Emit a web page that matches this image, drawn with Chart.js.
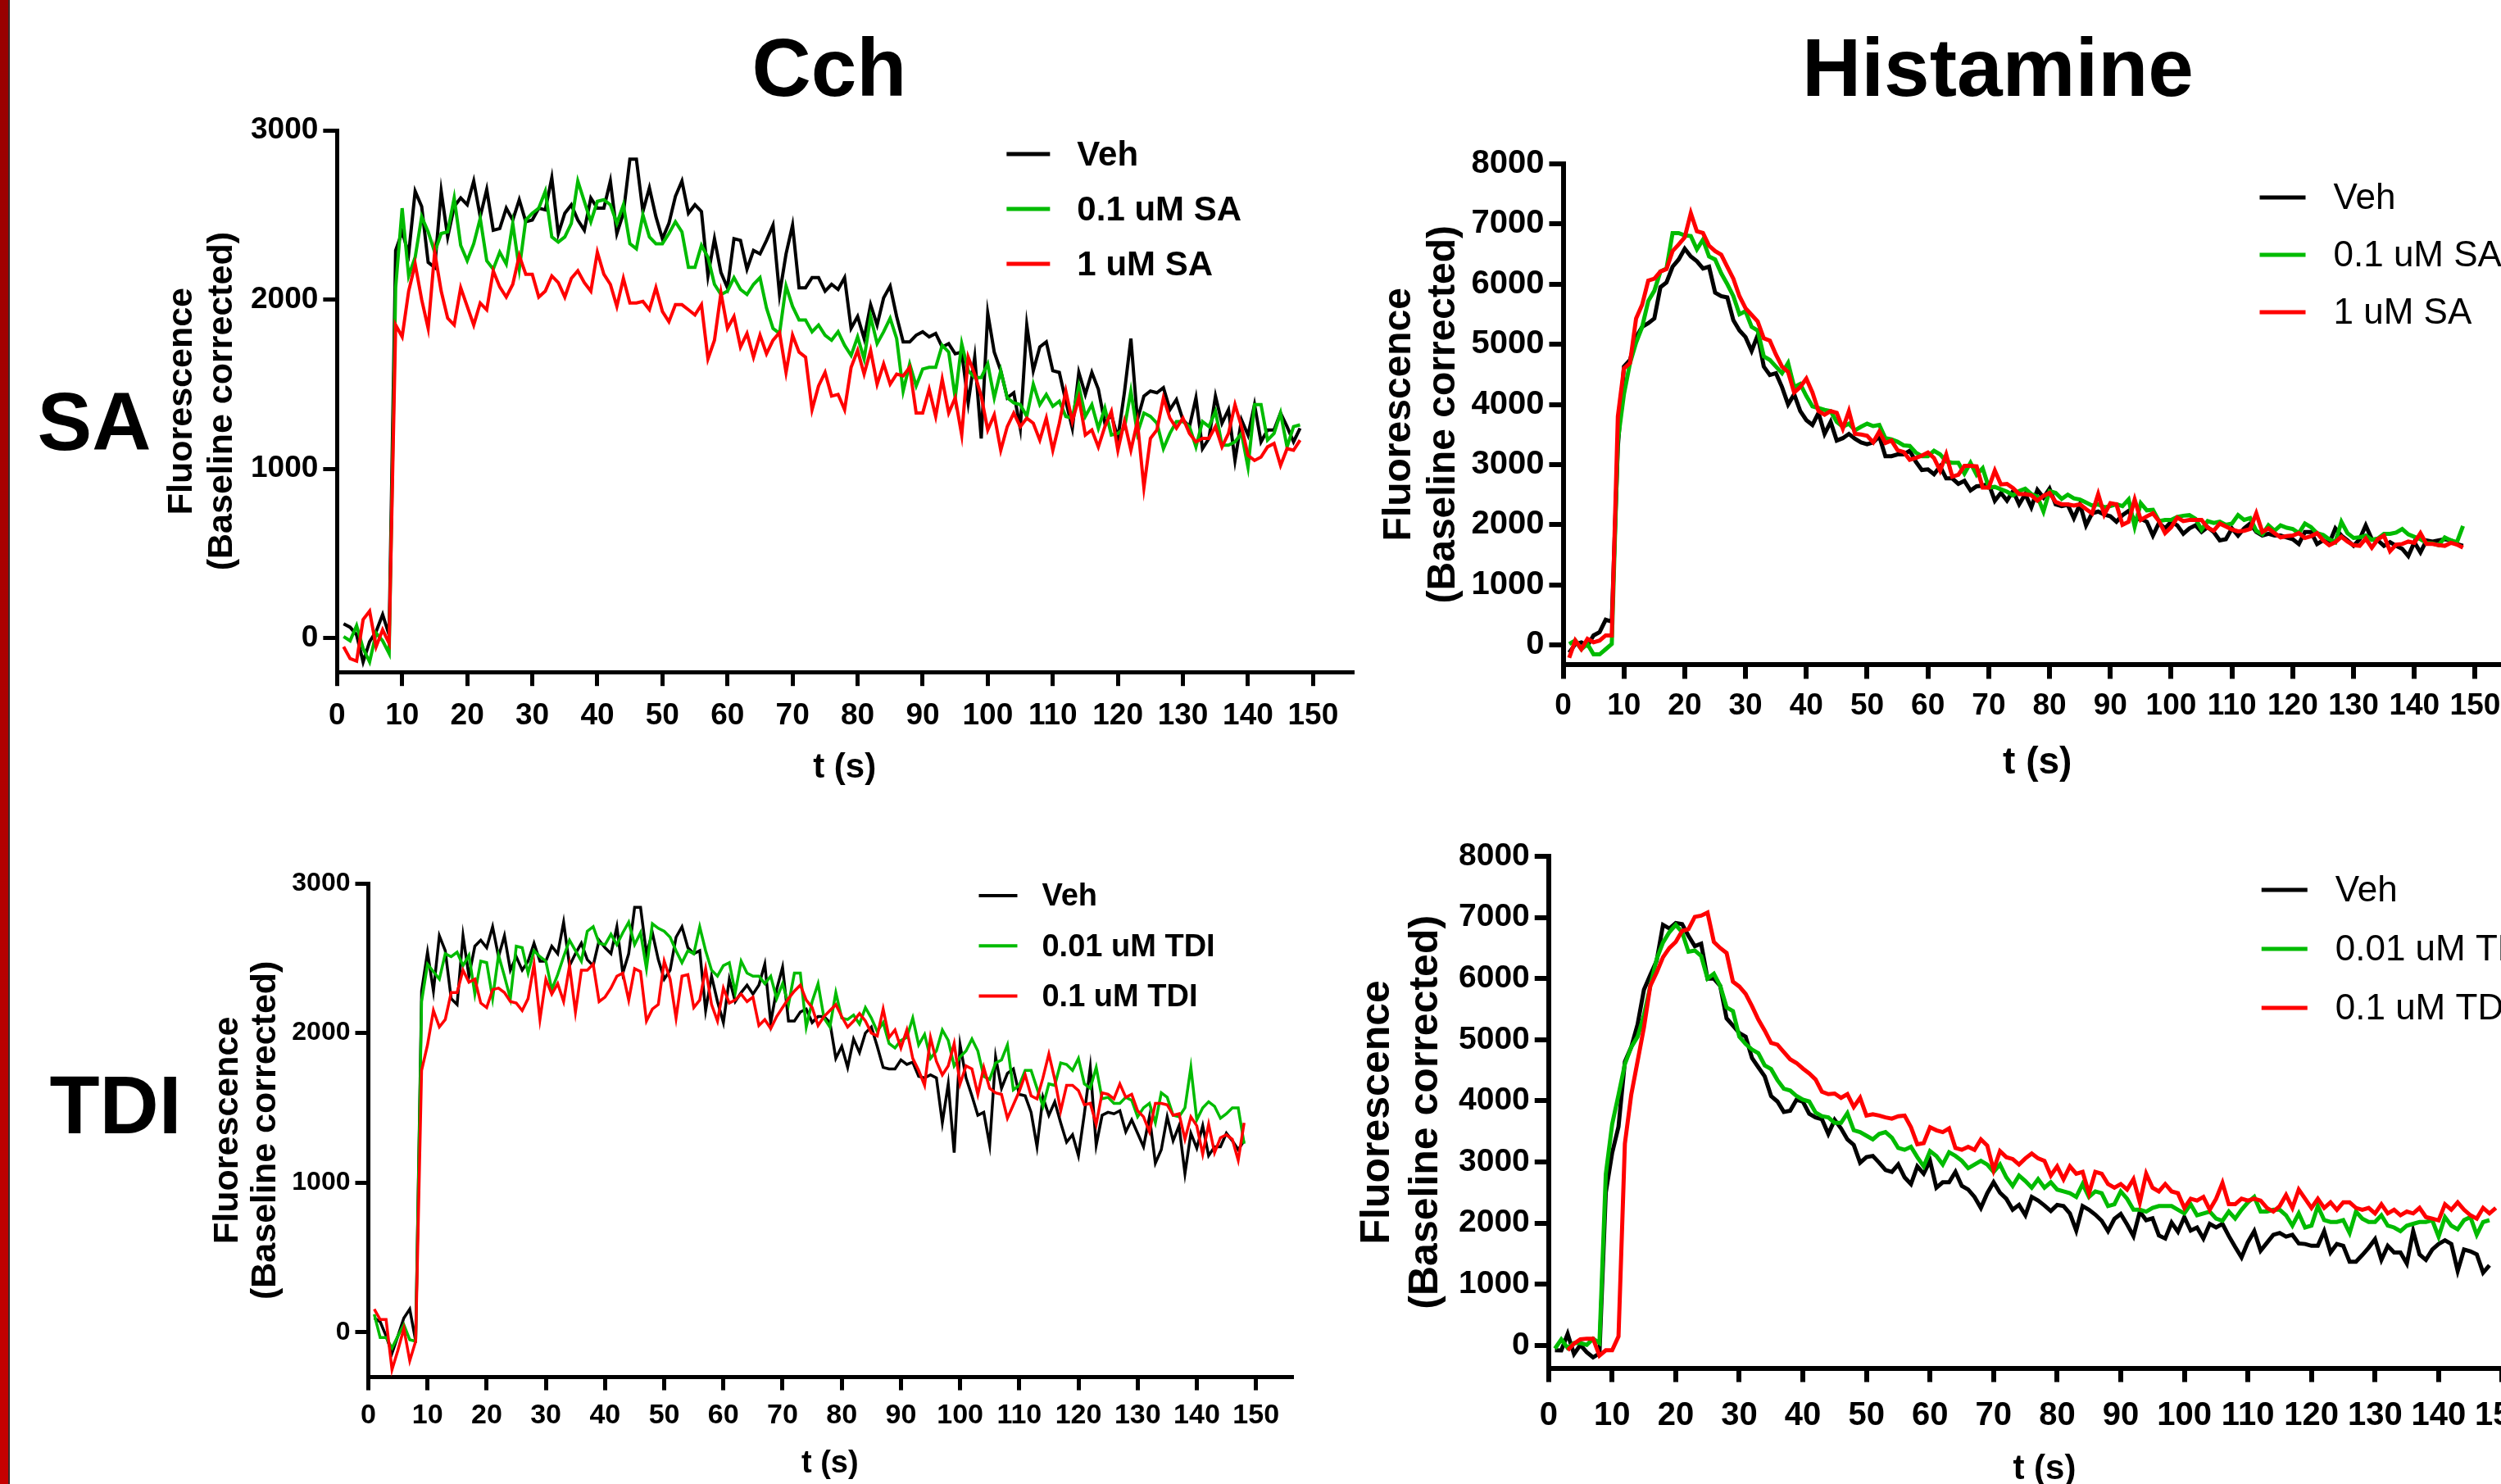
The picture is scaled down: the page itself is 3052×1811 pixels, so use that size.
<!DOCTYPE html>
<html>
<head>
<meta charset="utf-8">
<script src="https://cdn.jsdelivr.net/npm/chart.js@4.4.1/dist/chart.umd.min.js"></script>
<style>
  html, body { margin: 0; padding: 0; width: 3052px; height: 1811px; overflow: hidden; background: #fff; }
  body { position: relative; font-family: 'Liberation Sans', Arial, sans-serif; }
  #strip { position: absolute; left: 0; top: 0; width: 10px; height: 1811px;
           background: linear-gradient(#980000, #c60000); border-right: 2px solid #3a2a2a; }
  .big { position: absolute; font-weight: bold; font-size: 100px; line-height: 100px;
         color: #000; transform: translateX(-50%); white-space: nowrap; }
  .panel { position: absolute; }
</style>
</head>
<body>
<div id="strip"></div>
<div class="big" style="left:1012px; top:32px">Cch</div>
<div class="big" style="left:2438px; top:32px">Histamine</div>
<div class="big" style="left:115px; top:464px">SA</div>
<div class="big" style="left:141px; top:1298px">TDI</div>

<div class="panel" id="p1"><canvas></canvas></div>
<div class="panel" id="p2"><canvas></canvas></div>
<div class="panel" id="p3"><canvas></canvas></div>
<div class="panel" id="p4"><canvas></canvas></div>

<script>
// === time axis (one reading per second) ===
const seconds = Array.from({ length: 149 }, (_, i) => i + 1);
const timeTicks = [0, 10, 20, 30, 40, 50, 60, 70, 80, 90, 100, 110, 120, 130, 140, 150];
const cchTicks = [0, 1000, 2000, 3000];
const hisTicks = [0, 1000, 2000, 3000, 4000, 5000, 6000, 7000, 8000];

// === Cch + SA ===
const cchSaVeh = [
  85, 65, 20, -140, -20, 40, 140, 20,
  2290, 2400, 2270, 2640, 2550, 2220, 2190, 2640, 2370, 2550, 2600, 2560,
  2700, 2490, 2650, 2410, 2420, 2540, 2470, 2590, 2460, 2470,
  2540, 2530, 2720, 2390, 2510, 2560, 2470, 2410, 2600, 2540,
  2540, 2700, 2390, 2510, 2830, 2830, 2520, 2660, 2490, 2360,
  2450, 2610, 2700, 2510, 2560, 2520, 2140, 2360, 2160, 2070,
  2360, 2350, 2180, 2290, 2270, 2350, 2440, 2030, 2270, 2440,
  2070, 2070, 2130, 2130, 2050, 2090, 2060, 2130, 1830, 1900,
  1770, 1970, 1850, 2010, 2080, 1900, 1750, 1750, 1790, 1810,
  1780, 1800, 1720, 1740, 1680, 1690, 1390, 1660, 1180, 1920,
  1690, 1580, 1420, 1450, 1240, 1850, 1580, 1720, 1750, 1580,
  1570, 1400, 1240, 1570, 1440, 1570, 1470, 1270, 1320, 1180,
  1450, 1770, 1290, 1430, 1460, 1450, 1480, 1350, 1410, 1290,
  1250, 1420, 1120, 1180, 1430, 1270, 1350, 1050, 1290, 1200,
  1380, 1160, 1230, 1230, 1330, 1250, 1160, 1240
];
const cchSaLow = [
  10, -15, 75, -60, -140, 30, -15, -90,
  2070, 2540, 2140, 2250, 2490, 2400, 2280, 2390, 2400, 2600, 2320, 2230,
  2330, 2480, 2230, 2180, 2280, 2210, 2450, 2180, 2470, 2510,
  2540, 2640, 2370, 2340, 2370, 2450, 2700, 2580, 2460, 2580,
  2590, 2560, 2450, 2560, 2330, 2300, 2500, 2370, 2330, 2330,
  2390, 2460, 2400, 2190, 2190, 2320, 2250, 2090, 2030, 2050,
  2130, 2060, 2030, 2090, 2130, 1950, 1830, 1800, 2080, 1960,
  1880, 1880, 1810, 1850, 1790, 1760, 1810, 1730, 1670, 1780,
  1650, 1900, 1740, 1810, 1890, 1770, 1460, 1620, 1490, 1590,
  1600, 1600, 1730, 1690, 1420, 1740, 1580, 1540, 1540, 1620,
  1420, 1580, 1420, 1390, 1380, 1310, 1500, 1380, 1440, 1370,
  1400, 1310, 1300, 1490, 1310, 1380, 1240, 1360, 1200, 1210,
  1240, 1460, 1210, 1330, 1310, 1270, 1120, 1210, 1280, 1280,
  1250, 1130, 1280, 1250, 1340, 1140, 1140, 1160, 1210, 1010,
  1380, 1380, 1170, 1210, 1330, 1130, 1250, 1260
];
const cchSaHigh = [
  -50, -120, -135, 110, 160, -50, 50, -30,
  1850, 1780, 2050, 2210, 2000, 1830, 2280, 2050, 1890, 1850, 2070, 1960,
  1850, 1980, 1940, 2170, 2075, 2015, 2090, 2260, 2150, 2150,
  2015, 2050, 2140, 2100, 2015, 2125, 2170, 2100, 2050, 2280,
  2150, 2090, 1960, 2125, 1980, 1980, 1990, 1940, 2070, 1930,
  1870, 1970, 1970, 1940, 1910, 1970, 1650, 1760, 2040, 1830,
  1900, 1720, 1800, 1660, 1790, 1680, 1760, 1805, 1570, 1790,
  1690, 1660, 1350, 1490, 1570, 1430, 1440, 1350, 1600, 1700,
  1560, 1700, 1500, 1620, 1500, 1560, 1550, 1600, 1330, 1330,
  1470, 1310, 1530, 1330, 1420, 1200, 1660, 1560, 1430, 1230,
  1320, 1110, 1250, 1330, 1250, 1300, 1270, 1170, 1300, 1110,
  1270, 1460, 1280, 1420, 1200, 1230, 1130, 1250, 1340, 1110,
  1280, 1110, 1280, 890, 1180, 1230, 1420, 1300, 1240, 1300,
  1210, 1160, 1180, 1180, 1250, 1130, 1210, 1380, 1250, 1080,
  1050, 1070, 1130, 1150, 1020, 1120, 1110, 1170
];

// === Histamine + SA ===
const hisSaVeh = [
  -125, 15, 45, -10, 160, 215, 420, 390,
  3300, 4630, 4740, 5120, 5290, 5350, 5430, 5950, 6030, 6290, 6410, 6590,
  6460, 6380, 6260, 6290, 5860, 5800, 5780, 5400, 5230, 5120,
  4890, 5150, 4630, 4490, 4520, 4290, 4000, 4170, 3890, 3740,
  3660, 3860, 3510, 3710, 3400, 3440, 3510, 3430, 3370, 3340,
  3370, 3470, 3140, 3140, 3170, 3170, 3230, 3050, 2910, 2920,
  2840, 2970, 2770, 2770, 2680, 2730, 2570, 2640, 2650, 2680,
  2400, 2530, 2400, 2560, 2340, 2510, 2290, 2580, 2450, 2600,
  2340, 2310, 2330, 2110, 2340, 1990, 2190, 2220, 2170, 2140,
  2050, 2160, 2230, 2080, 2100, 2050, 1820, 2030, 1940, 2050,
  1990, 1850, 1940, 1990, 1880, 1960, 1880, 1740, 1760, 1940,
  1820, 1940, 2020, 1880, 1820, 1850, 1820, 1820, 1790, 1760,
  1680, 1880, 1880, 1680, 1740, 1690, 1940, 1820, 1740, 1650,
  1760, 1990, 1760, 1740, 1650, 1710, 1650, 1600, 1480, 1710,
  1540, 1740, 1720, 1740, 1760, 1740, 1680, 1650
];
const hisSaLow = [
  17, 75, -69, 17, -155, -155, -69, 17,
  3400, 4170, 4690, 5030, 5290, 5720, 5890, 6210, 6260, 6850, 6850, 6810,
  6800, 6580, 6740, 6460, 6410, 6180, 6000, 5800, 5500, 5550,
  5290, 5230, 4800, 4740, 4630, 4520, 4690, 4290, 4340, 4140,
  3970, 3940, 3910, 3890, 3710, 3630, 3680, 3570, 3630, 3680,
  3640, 3660, 3440, 3420, 3380, 3320, 3310, 3200, 3140, 3140,
  3230, 3170, 3050, 3030, 3030, 2850, 3030, 2830, 2940, 2620,
  2630, 2590, 2550, 2490, 2560, 2600, 2510, 2470, 2220, 2560,
  2530, 2430, 2500, 2440, 2420, 2370, 2320, 2340, 2290, 2310,
  2340, 2310, 2420, 1970, 2360, 2240, 2250, 2060, 2080, 2080,
  2130, 2150, 2160, 2100, 1920, 2060, 2030, 2050, 2000, 2020,
  2160, 2080, 2110, 1900, 1840, 1990, 1900, 1990, 1950, 1930,
  1860, 2020, 1960, 1860, 1830, 1760, 1710, 2050, 1860, 1780,
  1790, 1820, 1750, 1770, 1850, 1850, 1870, 1930, 1840, 1800,
  1760, 1700, 1690, 1660, 1790, 1740, 1710, 1980
];
const hisSaHigh = [
  -212, 75, -69, 103, 46, 75, 160, 160,
  3800, 4600, 4690, 5430, 5660, 6060, 6090, 6210, 6250, 6550, 6660, 6780,
  7180, 6880, 6850, 6640, 6550, 6490, 6290, 6090, 5800, 5600,
  5490, 5380, 5100, 5060, 4830, 4630, 4540, 4200, 4290, 4430,
  4200, 3890, 3830, 3890, 3860, 3600, 3890, 3510, 3500, 3480,
  3370, 3550, 3360, 3400, 3240, 3210, 3080, 3110, 3150, 3200,
  3110, 2900, 3170, 2800, 2830, 2980, 2980, 2970, 2620, 2620,
  2900, 2670, 2680, 2610, 2510, 2510, 2490, 2400, 2480, 2530,
  2380, 2340, 2340, 2320, 2340, 2260, 2190, 2510, 2170, 2360,
  2340, 2000, 2050, 2420, 2080, 2140, 2190, 2060, 1860, 1960,
  2120, 2060, 2080, 2080, 2080, 1950, 1900, 2020, 1970, 1920,
  1890, 1900, 1930, 2190, 1880, 1940, 1860, 1790, 1810, 1820,
  1860, 1780, 1810, 1860, 1740, 1660, 1710, 1800, 1720, 1660,
  1650, 1770, 1620, 1760, 1820, 1560, 1670, 1680, 1720, 1700,
  1860, 1680, 1680, 1660, 1650, 1700, 1670, 1620
];

// === Cch + TDI ===
const cchTdiVeh = [
  95, 70, -25, -140, -25, 95, 155, -60,
  2280, 2540, 2280, 2650, 2550, 2230, 2190, 2650, 2380, 2580, 2620, 2570,
  2710, 2510, 2650, 2420, 2510, 2420, 2480, 2600, 2480, 2480,
  2580, 2530, 2740, 2450, 2530, 2600, 2490, 2450, 2620, 2570,
  2530, 2710, 2400, 2530, 2840, 2840, 2530, 2670, 2490, 2360,
  2420, 2640, 2710, 2570, 2530, 2550, 2150, 2380, 2210, 2070,
  2360, 2210, 2270, 2320, 2260, 2320, 2460, 2070, 2290, 2440,
  2080, 2080, 2140, 2160, 2070, 2110, 2110, 2070, 1830, 1910,
  1770, 1960, 1870, 2000, 2040, 1910, 1770, 1760, 1760, 1820,
  1790, 1805, 1710, 1700, 1720, 1700, 1400, 1660, 1200, 1920,
  1700, 1580, 1450, 1470, 1250, 1840, 1630, 1730, 1760, 1590,
  1580, 1470, 1240, 1570, 1450, 1540, 1400, 1270, 1320, 1180,
  1460, 1770, 1250, 1450, 1470, 1460, 1480, 1340, 1420, 1330,
  1240, 1440, 1130, 1220, 1440, 1280, 1380, 1060, 1330, 1230,
  1380, 1180, 1240, 1240, 1330, 1280, 1220, 1280
];
const cchTdiLow = [
  120, -35, -35, -105, -25, 50, -50, -60,
  2210, 2460, 2410, 2360, 2530, 2510, 2540, 2450, 2520, 2260, 2480, 2470,
  2230, 2520, 2380, 2230, 2580, 2570, 2400, 2550, 2510, 2480,
  2290, 2390, 2510, 2620, 2550, 2480, 2680, 2710, 2600, 2590,
  2660, 2590, 2670, 2740, 2590, 2670, 2430, 2730, 2700, 2680,
  2640, 2550, 2470, 2550, 2530, 2710, 2550, 2420, 2380, 2450,
  2470, 2270, 2480, 2400, 2380, 2380, 2330, 2380, 2230, 2330,
  2190, 2400, 2400, 2040, 2210, 2330, 2100, 2040, 2270, 2100,
  2090, 2120, 2060, 2170, 2100, 2010, 2070, 1930, 1900, 1950,
  1970, 2100, 1920, 1990, 1830, 1880, 2020, 1950, 1780, 1840,
  1880, 1960, 1880, 1710, 1690, 1800, 1820, 1920, 1620, 1650,
  1750, 1750, 1630, 1510, 1660, 1650, 1800, 1790, 1750, 1830,
  1660, 1630, 1770, 1560, 1570, 1530, 1530, 1570, 1550, 1440,
  1500, 1530, 1400, 1600, 1570, 1450, 1440, 1500, 1770, 1420,
  1500, 1540, 1510, 1430, 1460, 1500, 1500, 1260
];
const cchTdiHigh = [
  155, 85, 85, -250, -120, 25, -190, -60,
  1750, 1920, 2150, 2040, 2090, 2270, 2270, 2420, 2340, 2360, 2200, 2170,
  2290, 2300, 2270, 2210, 2200, 2150, 2230, 2460, 2090, 2360,
  2260, 2330, 2210, 2450, 2140, 2420, 2420, 2460, 2210, 2240,
  2300, 2380, 2400, 2220, 2430, 2410, 2080, 2160, 2190, 2480,
  2360, 2100, 2380, 2390, 2170, 2220, 2430, 2190, 2080, 2300,
  2200, 2220, 2260, 2210, 2240, 2050, 2090, 2030, 2110, 2170,
  2230, 2280, 2320, 2220, 2170, 2050, 2110, 2150, 2190, 2110,
  2040, 2080, 2130, 2080, 2000, 1980, 2160, 1970, 2020, 1900,
  2020, 1830, 1750, 1650, 1970, 1810, 1720, 1780, 1930, 1660,
  1780, 1760, 1590, 1770, 1630, 1600, 1590, 1430, 1520, 1610,
  1720, 1580, 1560, 1700, 1860, 1690, 1480, 1650, 1650, 1615,
  1520, 1530, 1390, 1600, 1590, 1560, 1660, 1570, 1590, 1480,
  1440, 1340, 1530, 1530, 1520, 1450, 1460, 1290, 1440, 1380,
  1190, 1390, 1200, 1300, 1320, 1290, 1150, 1400
];

// === Histamine + TDI ===
const hisTdiVeh = [
  -77, -80, 190, -140, 10, -110, -195, -130,
  2500, 3150, 3580, 4640, 4880, 5250, 5820, 6060, 6290, 6880, 6820, 6910,
  6890, 6700, 6530, 6570, 6000, 6000, 5880, 5350, 5230, 5110,
  5050, 4700, 4550, 4400, 4080, 3990, 3820, 3840, 4020, 3990,
  3790, 3730, 3700, 3460, 3690, 3550, 3370, 3280, 2990, 3080,
  3100, 2990, 2870, 2840, 2960, 2750, 2640, 2930, 2810, 3020,
  2580, 2670, 2670, 2840, 2610, 2550, 2430, 2250, 2490, 2670,
  2500, 2400, 2220, 2300, 2130, 2430, 2370, 2290, 2200, 2300,
  2280, 2160, 1880, 2280, 2220, 2140, 2040, 1870, 2070, 2150,
  1980, 1790, 2190, 2050, 2080, 1800, 1750, 2010, 1860, 2100,
  1880, 1930, 1750, 1990, 1930, 1990, 1790, 1610, 1440, 1690,
  1870, 1550, 1680, 1810, 1840, 1780, 1810, 1670, 1660, 1630,
  1630, 1870, 1520, 1660, 1630, 1370, 1370, 1480, 1600, 1740,
  1400, 1630, 1520, 1520, 1340, 1870, 1490, 1400, 1570, 1660,
  1720, 1660, 1220, 1570, 1540, 1490, 1190, 1310
];
const hisTdiLow = [
  -50, 100, -40, 40, 40, 10, 110, 40,
  2800, 3620, 4100, 4600, 4880, 5050, 5400, 5880, 6320, 6590, 6760, 6880,
  6760, 6440, 6460, 6370, 6000, 6080, 5880, 5530, 5470, 5050,
  4930, 4840, 4780, 4580, 4520, 4340, 4200, 4170, 4080, 4020,
  3990, 3810, 3750, 3730, 3640, 3640, 3800, 3520, 3490, 3430,
  3370, 3460, 3490, 3400, 3230, 3200, 3250, 3080, 2930, 3180,
  3100, 2960, 3160, 3100, 3020, 2900, 2960, 3020, 2960, 2840,
  2960, 2750, 2610, 2780, 2690, 2580, 2720, 2580, 2670, 2550,
  2520, 2490, 2430, 2640, 2430, 2520, 2490, 2280, 2310, 2520,
  2400, 2220, 2220, 2190, 2250, 2280, 2280, 2280, 2220, 2160,
  2310, 2130, 2160, 2190, 2075, 2040, 2190, 2075, 2220, 2340,
  2430, 2190, 2190, 2220, 2220, 2130, 1960, 2160, 1930, 1960,
  2280, 2050, 2020, 2020, 2050, 1840, 2190, 2075, 2020, 2020,
  2130, 1960, 1930, 1870, 1960, 1990, 2020, 2020, 2050, 1780,
  2100, 1960, 1900, 2050, 2100, 1810, 2020, 2050
];
const hisTdiHigh = [
  null, null, -77, 30, 100, 112, 112, -165,
  -77, -77, 150, 3300, 4100, 4650, 5200, 5880, 6100, 6350, 6500, 6600,
  6780, 6810, 7010, 7030, 7080, 6600, 6500, 6420, 5950, 5870,
  5750, 5550, 5330, 5150, 4950, 4920, 4800, 4680, 4620, 4530,
  4450, 4350, 4150, 4110, 4120, 4050, 4110, 3900, 4050, 3760,
  3780, 3760, 3730, 3710, 3750, 3760, 3570, 3290, 3310, 3570,
  3520, 3490, 3550, 3230, 3200, 3250, 3200, 3370, 3270, 2870,
  3180, 3080, 3050, 2960, 3060, 3140, 3060, 3020, 2780, 2930,
  2720, 2930, 2810, 2840, 2490, 2840, 2810, 2640, 2580, 2640,
  2550, 2720, 2340, 2810, 2580, 2520, 2640, 2520, 2490, 2250,
  2400, 2370, 2430, 2220, 2400, 2660, 2310, 2310, 2400, 2370,
  2400, 2370, 2250, 2190, 2280, 2460, 2250, 2550, 2400, 2250,
  2400, 2250, 2340, 2220, 2340, 2340, 2250, 2220, 2250, 2160,
  2310, 2160, 2220, 2130, 2190, 2160, 2250, 2100, 2075, 2046,
  2310, 2220, 2340, 2220, 2130, 2075, 2250, 2160, 2250
];

const BLACK = "#000000";
const GREEN = "#00bb00";
const RED = "#ff0000";
const FONT = "'Liberation Sans', Arial, sans-serif";

Chart.defaults.font.family = FONT;
Chart.defaults.color = "#000";

// === legend drawn inside the plot, top right ===
const insetLegend = {
  id: "insetLegend",
  afterDraw(chart, args, opts) {
    const { ctx, chartArea } = chart;
    ctx.save();
    ctx.font = opts.font;
    ctx.textBaseline = "middle";
    ctx.lineCap = "butt";
    chart.data.datasets.forEach((ds, i) => {
      const x = chartArea.left + opts.left;
      const y = chartArea.top + opts.top + i * opts.dy;
      ctx.strokeStyle = ds.borderColor;
      ctx.lineWidth = opts.lineWidth;
      ctx.beginPath();
      ctx.moveTo(x, y);
      ctx.lineTo(x + opts.len, y);
      ctx.stroke();
      ctx.fillStyle = "#000";
      ctx.fillText(ds.label, x + opts.len + opts.gap, y + 2);
    });
    ctx.restore();
  }
};

// === panel layout (page pixels of the plot frame) ===
const panels = [
  {
    id: "p1",
    series: [["Veh", cchSaVeh, BLACK], ["0.1 uM SA", cchSaLow, GREEN], ["1 uM SA", cchSaHigh, RED]],
    area: { left: 411, top: 158.5, right: 1649.6, bottom: 820 },
    yMin: -200, yMax: 3000, yTicks: cchTicks,
    lineWidth: 4, axisWidth: 5, tickLen: 17, yTickFont: 37, xTickFont: 37, yTickPad: 6, xTickPad: 14,
    yTitleFont: 43, yTitleLH: 1.14, yTitlePad: 4, xTitleFont: 42, xTitlePad: 3,
    legend: { left: 817, top: 29, dy: 67, len: 53, gap: 33, lineWidth: 5, font: "bold 42px " + FONT }
  },
  {
    id: "p2",
    series: [["Veh", hisSaVeh, BLACK], ["0.1 uM SA", hisSaLow, GREEN], ["1 uM SA", hisSaHigh, RED]],
    area: { left: 1907.8, top: 200.3, right: 3065.3, bottom: 812 },
    yMin: -330, yMax: 8000, yTicks: hisTicks,
    lineWidth: 5, axisWidth: 6, tickLen: 17, yTickFont: 40, xTickFont: 37, yTickPad: 6, xTickPad: 11,
    yTitleFont: 48, yTitleLH: 1.12, yTitlePad: 1, xTitleFont: 46, xTitlePad: 9,
    legend: { left: 850, top: 41, dy: 70, len: 56, gap: 34, lineWidth: 5, font: "44px " + FONT }
  },
  {
    id: "p3",
    series: [["Veh", cchTdiVeh, BLACK], ["0.01 uM TDI", cchTdiLow, GREEN], ["0.1 uM TDI", cchTdiHigh, RED]],
    area: { left: 449.4, top: 1077.7, right: 1575.7, bottom: 1680.2 },
    yMin: -300, yMax: 3000, yTicks: cchTicks,
    lineWidth: 3.5, axisWidth: 5, tickLen: 16, yTickFont: 32, xTickFont: 34, yTickPad: 6, xTickPad: 11,
    yTitleFont: 43, yTitleLH: 1.05, yTitlePad: 4, xTitleFont: 38, xTitlePad: 4,
    legend: { left: 745, top: 15, dy: 61.3, len: 47, gap: 30, lineWidth: 4, font: "bold 38px " + FONT }
  },
  {
    id: "p4",
    series: [["Veh", hisTdiVeh, BLACK], ["0.01 uM TDI", hisTdiLow, GREEN], ["0.1 uM TDI", hisTdiHigh, RED]],
    area: { left: 1890.2, top: 1045.2, right: 3100.8, bottom: 1670.1 },
    yMin: -370, yMax: 8000, yTicks: hisTicks,
    lineWidth: 5, axisWidth: 6, tickLen: 17, yTickFont: 39, xTickFont: 40, yTickPad: 6, xTickPad: 17,
    yTitleFont: 50, yTitleLH: 1.18, yTitlePad: 4, xTitleFont: 42, xTitlePad: 0,
    legend: { left: 870, top: 41, dy: 72, len: 56, gap: 34, lineWidth: 5, font: "44px " + FONT }
  }
];

function buildChart(canvas, p, w, h) {
  canvas.width = w;
  canvas.height = h;
  canvas.style.width = w + "px";
  canvas.style.height = h + "px";
  const n = p.series.length;
  return new Chart(canvas, {
    type: "line",
    data: {
      datasets: p.series.map(([label, values, color], k) => ({
        label,
        data: values.map((v, i) => ({ x: seconds[i], y: v })),
        borderColor: color,
        borderWidth: p.lineWidth,
        pointRadius: 0,
        tension: 0,
        fill: false,
        order: n - k
      }))
    },
    options: {
      responsive: false,
      maintainAspectRatio: false,
      animation: false,
      events: [],
      layout: { padding: { left: 4, right: 10, top: 30, bottom: 6 } },
      plugins: { legend: { display: false }, tooltip: { enabled: false }, insetLegend: p.legend },
      scales: {
        x: {
          type: "linear", min: 0, max: 156,
          afterBuildTicks: s => { s.ticks = timeTicks.map(v => ({ value: v })); },
          grid: { display: true, drawOnChartArea: false, drawTicks: true, tickLength: p.tickLen,
                  lineWidth: p.axisWidth, tickWidth: p.axisWidth, tickColor: "#000", color: "#000" },
          border: { display: true, color: "#000", width: p.axisWidth },
          ticks: { callback: v => String(v), autoSkip: false, maxRotation: 0, padding: p.xTickPad,
                   color: "#000", font: { size: p.xTickFont, weight: "bold" } },
          title: { display: true, text: "t (s)", color: "#000",
                   font: { size: p.xTitleFont, weight: "bold" }, padding: { top: p.xTitlePad, bottom: 0 } }
        },
        y: {
          type: "linear", min: p.yMin, max: p.yMax,
          afterBuildTicks: s => { s.ticks = p.yTicks.map(v => ({ value: v })); },
          grid: { display: true, drawOnChartArea: false, drawTicks: true, tickLength: p.tickLen,
                  lineWidth: p.axisWidth, tickWidth: p.axisWidth, tickColor: "#000", color: "#000" },
          border: { display: true, color: "#000", width: p.axisWidth },
          ticks: { callback: v => String(v), autoSkip: false, padding: p.yTickPad,
                   color: "#000", font: { size: p.yTickFont, weight: "bold" } },
          title: { display: true, text: ["Fluorescence", "(Baseline corrected)"], color: "#000",
                   font: { size: p.yTitleFont, weight: "bold", lineHeight: p.yTitleLH },
                   padding: { top: 0, bottom: p.yTitlePad } }
        }
      }
    },
    plugins: [insetLegend]
  });
}

// === build each panel, then size/move the canvas so the plot frame sits where it should ===
panels.forEach(p => {
  const box = document.getElementById(p.id);
  const canvas = box.querySelector("canvas");
  let chart = buildChart(canvas, p, 1600, 900);
  const ca = chart.chartArea;
  const padL = ca.left, padT = ca.top;
  const padR = chart.width - ca.right, padB = chart.height - ca.bottom;
  chart.destroy();
  const w = Math.round(padL + (p.area.right - p.area.left) + padR);
  const h = Math.round(padT + (p.area.bottom - p.area.top) + padB);
  chart = buildChart(canvas, p, w, h);
  box.style.left = (p.area.left - chart.chartArea.left) + "px";
  box.style.top = (p.area.top - chart.chartArea.top) + "px";
});
</script>
</body>
</html>
